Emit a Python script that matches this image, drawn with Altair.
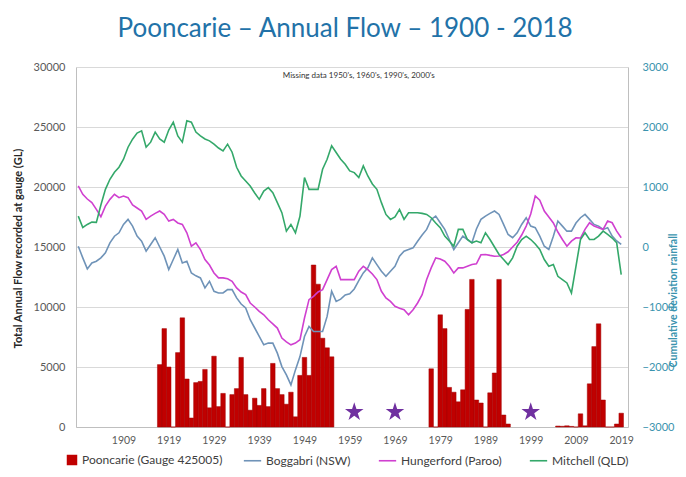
import altair as alt
import pandas as pd

TITLE = "Pooncarie – Annual Flow – 1900 - 2018"
NOTE = "Missing data 1950's, 1960's, 1990's, 2000's"
LEFT_TITLE = "Total Annual Flow recorded at gauge (GL)"
RIGHT_TITLE = "Cumulative deviation rainfall"

# Pooncarie annual flow (GL), bars
bar_years = list(range(1917, 1956)) + list(range(1977, 1995)) + list(range(2005, 2020))
bar_flow = [
    5200, 8200, 5000, 0, 6200, 9100, 4000, 750, 3700, 3800,
    4800, 1600, 5900, 1700, 2800, 0, 2700, 3200, 5800, 2700,
    1400, 2400, 1800, 3200, 1700, 5300, 3200, 2700, 1900, 2900,
    850, 4300, 5800, 4300, 13500, 11900, 7400, 6600, 5850,
    4850, 0, 9350, 8200, 3300, 2900, 2100, 3100, 9800, 12300,
    2250, 2000, 0, 2850, 4500, 12300, 1000, 250,
    80, 60, 100, 50, 0, 1100, 100, 3600, 6700, 8600, 2250, 0, 0, 250, 1150,
]

# Cumulative deviation rainfall, 1899-2019
line_years = list(range(1899, 2020))
boggabri = [
    13,
    -181, -365, -265, -237, -181, -98, 70, 180, 237, 376,
    460, 348, 181, 97, -70, 42, 154, 0, -153, -376,
    -209, -42, -265, -237, -432, -480, -515, -682, -571, -738,
    -766, -766, -710, -710, -849, -950, -1017, -1212, -1350, -1491,
    -1630, -1602, -1602, -1769, -1993, -2132, -2299, -2048, -1826, -1491,
    -1324, -1408, -1408, -1408, -1157, -738, -906, -870, -800, -780,
    -700, -560, -432, -348, -181, -293, -404, -488, -404, -321,
    -153, -70, -42, -14, 97, 200, 293, 460, 515, 404,
    293, 125, -42, 70, 181, 125, 70, 300, 460, 515,
    560, 599, 543, 376, 209, 154, 237, 376, 488, 348,
    321, 181, 13, -42, 181, 432, 348, 264, 264, 400,
    488, 543, 460, 376, 348, 293, 321, 181, 100, 42,
]
hungerford = [
    1017,
    878, 800, 739, 627, 505, 682, 794, 878, 822, 850,
    822, 700, 650, 599, 460, 515, 560, 599, 543, 432,
    460, 400, 376, 237, 13, 70, -42, -209, -300, -432,
    -515, -515, -530, -571, -682, -750, -794, -933, -1000, -1073,
    -1129, -1212, -1280, -1351, -1518, -1580, -1630, -1602, -1546, -1184,
    -878, -822, -750, -710, -543, -376, -321, -543, -543, -543,
    -543, -404, -321, -376, -450, -543, -738, -850, -906, -989,
    -1020, -1045, -1129, -1045, -933, -794, -543, -348, -181, -200,
    -237, -321, -432, -348, -348, -320, -293, -280, -130, -125,
    -140, -153, -150, -125, -80, 0, 80, 200, 348, 550,
    850, 780, 600, 500, 400, 250, 125, 13, 97, 154,
    150, 293, 404, 348, 321, 293, 432, 404, 264, 154,
]
mitchell = [
    515,
    325, 376, 415, 410, 700, 961, 1129, 1245, 1329, 1463,
    1663, 1797, 1898, 1936, 1663, 1747, 1915, 1800, 1747, 1950,
    2081, 1850, 1747, 2103, 2081, 1915, 1853, 1800, 1769, 1714,
    1650, 1602, 1714, 1580, 1329, 1184, 1100, 1017, 900, 794,
    933, 990, 906, 739, 572, 264, 376, 237, 515, 1157,
    961, 961, 961, 1296, 1463, 1686, 1575, 1463, 1380, 1268,
    1240, 1157, 1351, 1184, 1050, 961, 739, 543, 460, 500,
    627, 460, 572, 572, 572, 560, 543, 488, 400, 321,
    181, 100, 13, 293, 293, 125, 70, 100, 70, 237,
    125, 0, -125, -209, -293, -181, 13, 125, 181, 125,
    50, -42, -209, -321, -293, -488, -543, -599, -766, -321,
    125, 237, 125, 125, 181, 264, 209, 150, 70, -460,
]

star_years = [1960, 1969, 1999]
star_flow = [1250, 1250, 1250]

note_year = [1961]
note_flow = [29250]

bar_name = "Pooncarie (Gauge 425005)"
line_names = ["Boggabri (NSW)", "Hungerford (Paroo)", "Mitchell (QLD)"]
line_colors = ["#6F93B8", "#D040D0", "#34A86A"]

x_ticks = [1909, 1919, 1929, 1939, 1949, 1959, 1969, 1979, 1989, 1999, 2009, 2019]
left_ticks = [0, 5000, 10000, 15000, 20000, 25000, 30000]
right_ticks = [-3000, -2000, -1000, 0, 1000, 2000, 3000]

FONT = "Lato"

bars_df = pd.DataFrame({"year": bar_years, "flow": bar_flow, "series": bar_name})
lines_df = pd.concat(
    [
        pd.DataFrame({"year": line_years, "dev": vals, "series": name})
        for name, vals in zip(line_names, [boggabri, hungerford, mitchell])
    ],
    ignore_index=True,
)
stars_df = pd.DataFrame({"year": star_years, "flow": star_flow})
note_df = pd.DataFrame({"year": note_year, "flow": note_flow, "text": [NOTE]})

x_scale = alt.Scale(domain=[1898.5, 2020.5], nice=False, zero=False)
x_axis = alt.Axis(
    values=x_ticks, format="d", grid=False, ticks=False, labelPadding=8,
    labelFontSize=10.5, labelColor="#595959", domainColor="#BFBFBF", title=None,
    labelFont=FONT,
)
left_scale = alt.Scale(domain=[0, 30000], nice=False)
left_axis = alt.Axis(
    values=left_ticks, format="d",
    grid=True, gridColor="#D9D9D9", ticks=False, labelPadding=11,
    labelFontSize=11, labelColor="#595959", domainColor="#BFBFBF",
    labelFont=FONT, title=LEFT_TITLE, titleFont=FONT, titleFontSize=11,
    titleFontWeight="bold", titleColor="#262626", titleAngle=270,
    titleX=-58, titleY=181, titleBaseline="middle",
)

bars = (
    alt.Chart(bars_df)
    .transform_calculate(x0="datum.year - 0.5", x1="datum.year + 0.5")
    .mark_bar(stroke="#A00000", strokeWidth=0.5)
    .encode(
        x=alt.X("x0:Q", scale=x_scale, axis=x_axis),
        x2="x1:Q",
        y=alt.Y("flow:Q", scale=left_scale, axis=left_axis, title=LEFT_TITLE),
        y2=alt.datum(0),
        fill=alt.Fill(
            "series:N",
            scale=alt.Scale(domain=[bar_name], range=["#C00000"]),
            legend=alt.Legend(
                title=None, orient="none", legendX=-10, legendY=387,
                symbolType="square", symbolSize=110, symbolStrokeWidth=0,
                labelFont=FONT, labelFontSize=12, labelColor="#404040",
            ),
        ),
    )
)

STAR = ("M0,-1L0.2245,-0.309L0.951,-0.309L0.363,0.118L0.588,0.809L0,0.382"
        "L-0.588,0.809L-0.363,0.118L-0.951,-0.309L-0.2245,-0.309Z")
stars = (
    alt.Chart(stars_df)
    .mark_point(shape=STAR, filled=True, color="#7030A0", size=380, opacity=1)
    .encode(
        x=alt.X("year:Q", scale=x_scale, axis=x_axis),
        y=alt.Y("flow:Q", scale=left_scale, axis=left_axis, title=LEFT_TITLE),
    )
)

note = (
    alt.Chart(note_df)
    .mark_text(font=FONT, fontSize=8, color="#333333")
    .encode(
        x=alt.X("year:Q", scale=x_scale, axis=x_axis),
        y=alt.Y("flow:Q", scale=left_scale, axis=left_axis, title=LEFT_TITLE),
        text="text:N",
    )
)

left = alt.layer(bars, stars, note)

lines = (
    alt.Chart(lines_df)
    .mark_line(strokeWidth=1.6)
    .encode(
        x=alt.X("year:Q", scale=x_scale, axis=x_axis),
        y=alt.Y(
            "dev:Q", scale=alt.Scale(domain=[-3000, 3000], nice=False),
            axis=alt.Axis(
                orient="right", values=right_ticks,
                format="d", grid=False, ticks=False, labelPadding=14,
                labelFontSize=11, labelColor="#3A93AE", domainColor="#BFBFBF",
                labelFont=FONT, title=RIGHT_TITLE, titleFont=FONT, titleFontSize=10.5,
                titleFontWeight="bold", titleColor="#3A93AE", titleAngle=270,
                titleX=45, titleY=233, titleBaseline="middle",
            ),
        ),
        stroke=alt.Stroke(
            "series:N",
            scale=alt.Scale(domain=line_names, range=line_colors),
            legend=alt.Legend(
                title=None, orient="none", legendX=167, legendY=384,
                direction="horizontal", symbolType="stroke", symbolSize=300,
                symbolStrokeWidth=1.6, columnPadding=24,
                labelFont=FONT, labelFontSize=12, labelColor="#404040",
            ),
        ),
    )
)

chart = (
    alt.layer(left, lines)
    .resolve_scale(y="independent")
    .properties(
        width=552, height=360,
        padding={"left": 68, "top": 59, "right": 50, "bottom": 42},
        autosize=alt.AutoSizeParams(type="none"),
        title=alt.TitleParams(
            TITLE, font=FONT, fontSize=26, fontWeight="normal", color="#2272A8",
            anchor="middle", frame="group", offset=19, dx=-7,
        ),
        background="white",
    )
    .configure_view(strokeWidth=0)
)

chart.save("out.html", embed_options={"renderer": "svg", "actions": False})
